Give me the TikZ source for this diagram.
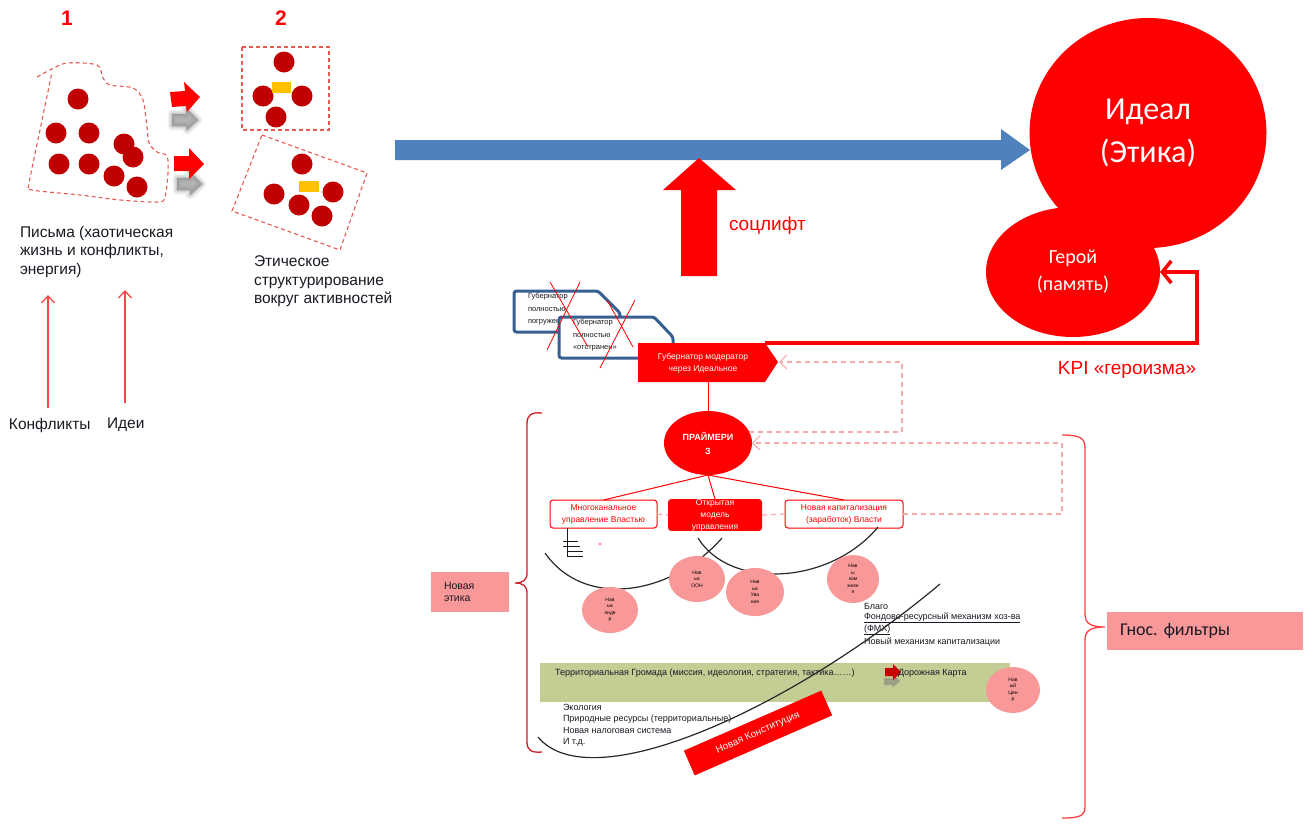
\documentclass[tikz,border=0pt]{standalone}
\usepackage{fontspec}
\setmainfont{Liberation Sans}
\newfontfamily\calfont{Carlito}
\usetikzlibrary{shapes.geometric,arrows.meta,calc}
\definecolor{dred}{RGB}{192,0,0}
\definecolor{bred}{RGB}{255,0,0}
\definecolor{dashred}{RGB}{228,90,80}
\definecolor{arrred}{RGB}{255,70,70}
\definecolor{ablue}{RGB}{79,129,189}
\definecolor{govblue}{RGB}{55,96,146}
\definecolor{pinkc}{RGB}{249,152,152}
\definecolor{pdashc}{RGB}{248,170,170}
\definecolor{olivec}{RGB}{196,205,148}
\definecolor{ambery}{RGB}{255,192,0}
\definecolor{txtc}{RGB}{25,25,35}
\definecolor{arcc}{RGB}{40,40,40}
\definecolor{brk}{RGB}{205,30,40}
\frenchspacing
\begin{document}
\begin{tikzpicture}[x=1pt,y=-1pt,
  every node/.style={inner sep=0pt, outer sep=0pt},
  reddot/.style={circle, fill=dred, minimum size=21pt},
  redash/.style={draw=dashred, line width=1.1pt, dash pattern=on 4pt off 3pt},
  txt/.style={text=txtc, font=\fontsize{15.5}{18.5}\selectfont, align=left},
  thinarrow/.style={draw=arrred, line width=1.3pt, -{Straight Barb[length=7pt,width=13pt]}},
  pdash/.style={draw=pdashc, line width=1.2pt, dash pattern=on 5pt off 4pt},
  pdarrow/.style={pdash, -{Straight Barb[length=7pt,width=14pt]}},
  pcirc/.style={ellipse, fill=pinkc, font=\fontsize{5}{6.5}\selectfont, align=center, text=black},
  blackarc/.style={draw=arcc, line width=1.2pt},
  smalltxt/.style={font=\fontsize{9}{12}\selectfont, text=txtc, anchor=west},
  gtext/.style={font=\fontsize{7.5}{12.5}\selectfont, text=txtc, align=left, anchor=north west},
  govbox/.style={draw=govblue, line width=3pt, fill=white, rounded corners=2.5pt},
  boxtxt/.style={font=\fontsize{8.5}{12}\selectfont, align=center},
  softshadow/.style={fill=gray, draw=gray, line join=round},
]
\useasboundingbox (0,0) rectangle (1314,823);

% ---------- stage numbers
\node[text=bred, font=\bfseries\fontsize{21}{24}\selectfont] (num1) at (67,18) {1};
\node[text=bred, font=\bfseries\fontsize{21}{24}\selectfont] (num2) at (281,18) {2};

% ---------- chaotic blob
\draw[redash] plot[smooth, tension=0.5] coordinates {(37,77) (50,70) (67,63) (97,65) (103,78) (110,85) (133,88) (143,100) (147,127) (149,143) (157,152) (167,156) (168,173) (165,197) (158,202) (120,200) (80,195) (32,190) (29,184) (40,130) (52,72)};
\foreach \x/\y [count=\i] in {78/99,56/133,89/133,59/164,89/164,124/144,133/157,114/176,137/187}
  \node[reddot] (b\i) at (\x,\y) {};

% ---------- transition arrows with soft shadows
\foreach \w/\o in {9/0.10,6/0.14,3/0.2,0.5/0.35} {
  \filldraw[softshadow, opacity=\o, line width=\w pt] (172,114) -- (186,114) -- (186,108) -- (198,120) -- (187,130) -- (186,126) -- (172,126) -- cycle;
  \filldraw[softshadow, opacity=\o, line width=\w pt] (177,178) -- (190,178) -- (190,172) -- (202,184) -- (190,195) -- (190,190) -- (177,190) -- cycle;
}
\fill[bred] (170,92) -- (185,91) -- (184,82) -- (200,97) -- (187,112) -- (186,106) -- (172,107) -- cycle;
\fill[bred] (174,156) -- (189,156) -- (189,148) -- (204,164) -- (189,179) -- (189,171) -- (174,171) -- cycle;

% ---------- structured groups
\draw[redash] (242,47) rectangle (329,130);
\foreach \x/\y [count=\i] in {284/62,263/96,302/96,276/117}
  \node[reddot] (c\i) at (\x,\y) {};
\fill[ambery] (272,82) rectangle (291,93);
\draw[redash] (262,135) -- (367,173) -- (340,250) -- (232,211) -- cycle;
\foreach \x/\y [count=\i] in {302/164,274/194,333/192,299/205,322/216}
  \node[reddot] (e\i) at (\x,\y) {};
\fill[ambery] (299,181) rectangle (319,192);

% ---------- left texts
\node[txt, anchor=north west] (pis) at (20,226) {Письма (хаотическая\\жизнь и конфликты,\\энергия)};
\node[txt, anchor=north west] (eth) at (254,256) {Этическое\\структурирование\\вокруг активностей};
\node[txt, anchor=west] (konf) at (9,425) {Конфликты};
\node[txt, anchor=west] (idei) at (107,425) {Идеи};
\coordinate (k0) at (48,408); \coordinate (k1) at (48,295);
\coordinate (i0) at (125,403); \coordinate (i1) at (125,290);
\draw[thinarrow] (k0) -- (k1);
\draw[thinarrow] (i0) -- (i1);

% ---------- ideal and hero
\node[ellipse, fill=bred, minimum width=237pt, minimum height=230pt, text=white,
      font=\calfont\fontsize{32}{43}\selectfont, align=center] (ideal) at (1148,133) {Идеал\\(Этика)};
\node[ellipse, fill=bred, minimum width=174pt, minimum height=130pt, text=white,
      font=\calfont\fontsize{20}{27}\selectfont, align=center] (hero) at (1073,272) {Герой\\(память)};

% ---------- main blue arrow
\fill[ablue] (395,140) -- (1001,140) -- (1001,129) -- (1030,150) -- (1001,170) -- (1001,160) -- (395,160) -- cycle;

% ---------- social lift arrow
\fill[bred] (681,276) -- (681,190) -- (663,190) -- (699,158) -- (736,190) -- (717,190) -- (717,276) -- cycle;
\node[text=bred, font=\fontsize{19}{22}\selectfont, anchor=west] (soc) at (729,226) {соцлифт};

% ---------- governor variants
\draw[govbox] (514,291) -- (598,291) -- (620,313) -- (620,332) -- (514,332) -- cycle;
\node[gtext] (gA) at (528,293) {Губернатор\\полностью\\погружен};
\draw[govbox] (559,317) -- (654,317) -- (673,337) -- (673,358) -- (559,358) -- cycle;
\node[gtext] (gB) at (573,319) {Губернатор\\полностью\\«отстранен»};
\draw[bred, line width=0.8pt] (550,282) -- (588,347) (580,282) -- (547,350);
\draw[bred, line width=0.8pt] (607,300) -- (633,347) (635,300) -- (600,368);

% ---------- moderator
\fill[bred] (638,343) -- (765,343) -- (778,362) -- (765,382) -- (638,382) -- cycle;
\coordinate (modNE) at (765,343);
\coordinate (modTip) at (779,362);
\coordinate (modS) at (708,382);
\node[text=white, boxtxt] (modT) at (703,363) {Губернатор модератор\\через Идеальное};

% ---------- KPI loop
\draw[bred, line width=3.5pt, -{Straight Barb[length=9pt,width=22pt]}] (modNE) -- (1197,343) |- (hero.east);
\node[text=bred, font=\fontsize{19}{22}\selectfont] (kpi) at (1127,370) {KPI «героизма»};

% ---------- primaries
\node[ellipse, fill=bred, minimum width=88pt, minimum height=64pt, text=white,
      font=\bfseries\fontsize{9}{14}\selectfont, align=center] (prim) at (708,443) {ПРАЙМЕРИ\\З};
\draw[bred, line width=1pt] (modS) -- (prim.north);

\node[draw=bred, line width=1pt, fill=white, rounded corners=3pt, minimum width=107pt, minimum height=28pt,
      text=bred, boxtxt] (bL) at (603.5,514) {Многоканальное\\управление Властью};
\node[fill=bred, rounded corners=3pt, minimum width=94pt, minimum height=30pt,
      text=white, boxtxt] (bM) at (715,515) {Открытая\\модель\\управления};
\node[draw=bred, line width=1pt, fill=white, rounded corners=3pt, minimum width=118pt, minimum height=28pt,
      text=bred, boxtxt] (bR) at (844,514) {Новая капитализация\\(заработок) Власти};
\draw[bred, line width=1pt] (prim.south) -- (bL.north);
\draw[bred, line width=1pt] (prim.south) -- (bM.north);
\draw[bred, line width=1pt] (prim.south) -- (bR.north);

% dashed feedback
\draw[pdash] (bL.east) -- (bM.west);
\draw[pdash] (bM.east) -- (bR.west);
\coordinate (loopA) at (902,362);
\draw[pdarrow] (prim.15) -| (loopA) -- (modTip);
\coordinate (loopB) at (1062,443);
\draw[pdarrow] (bR.east) -| (loopB) -- (prim.east);

% ---------- arcs and marks
\draw[blackarc] (545,553) .. controls (585,610) and (672,595) .. (722,538);
\draw[blackarc] (698,538) .. controls (730,590) and (830,585) .. (878,527);
\draw[draw=txtc, line width=1pt] (567,528) -- (567,556)
  (563,541) -- (578,541) (563,546) -- (580,546) (567,551) -- (583,551) (567,556) -- (583,556);
\node[text=bred, font=\fontsize{6}{7}\selectfont] (eqm) at (600,545) {=};

% ---------- skill circles
\node[pcirc, minimum width=56pt, minimum height=46pt] (s1) at (610,610) {Нав\\ык\\лиде\\р};
\node[pcirc, minimum width=56pt, minimum height=46pt] (s2) at (697,579) {Нав\\ык\\ООН};
\node[pcirc, minimum width=58pt, minimum height=48pt] (s3) at (755,592) {Нав\\ык\\Ува\\ния};
\node[pcirc, minimum width=52pt, minimum height=48pt] (s4) at (853,579) {Нав\\ы\\ком\\жизн\\я};

% ---------- text block
\node[smalltxt] (blago) at (864,606) {Благо};
\node[smalltxt] (fmx) at (864,618) {\underline{Фондово-ресурсный механизм хоз-ва}};
\node[smalltxt] (fmx2) at (864,630) {\underline{(ФМХ)}};
\node[smalltxt] (nmk) at (864,642) {Новый механизм капитализации};

% ---------- territorial band
\node[fill=olivec, minimum width=470pt, minimum height=39pt, anchor=north west] (band) at (540,663) {};
\node[smalltxt] (terr) at (555,673) {Территориальная Громада (миссия, идеология, стратегия, тактика……)};
\foreach \w/\o in {4/0.12,2/0.2,0.5/0.3}
  \filldraw[softshadow, opacity=\o, line width=\w pt] (885,679) -- (893,679) -- (893,676) -- (899,681) -- (893,686) -- (893,684) -- (885,684) -- cycle;
\fill[dred!90!red] (885,668) -- (893,668) -- (893,664) -- (901,672) -- (893,680) -- (893,676) -- (885,676) -- cycle;
\node[smalltxt] (road) at (898,673) {Дорожная Карта};
\node[pcirc, minimum width=54pt, minimum height=46pt] (s5) at (1013,690) {Нав\\ый\\Цен\\р};

\node[smalltxt] (l1) at (563,707) {Экология};
\node[smalltxt] (l2) at (563,719) {Природные ресурсы (территориальные)};
\node[smalltxt] (l3) at (563,730) {Новая налоговая система};
\node[smalltxt] (l4) at (563,742) {И т.д.};

% ---------- long curve
\draw[blackarc] (940,584) .. controls (790,710) and (590,800) .. (538,737);

% ---------- constitution
\node[fill=bred, rotate=23.6, minimum width=150pt, minimum height=27pt, text=white!85!pink,
      font=\fontsize{10}{12}\selectfont] (konst) at (758,733) {Новая Конституция};

% ---------- brackets and labels
\draw[brk, line width=1.3pt] (542,413) .. controls (531,412) and (527,415) .. (527,424) -- (527,573)
  .. controls (527,580) and (523,583) .. (515,583) .. controls (523,583) and (527,586) .. (527,593)
  -- (527,742) .. controls (527,750) and (531,753) .. (542,752);
\node[fill=pinkc, minimum width=78pt, minimum height=40pt, text width=52pt, align=left,
      font=\fontsize{10.5}{12}\selectfont, text=txtc] (netika) at (470,592) {Новая\\этика};

\draw[red!75, line width=1.3pt] (1062,435) .. controls (1080,435) and (1085,438) .. (1085,448) -- (1085,614)
  .. controls (1085,623) and (1090,627) .. (1105,627) .. controls (1090,627) and (1085,631) .. (1085,640)
  -- (1085,806) .. controls (1085,816) and (1080,818) .. (1062,818);
\node[fill=pinkc, minimum width=196pt, minimum height=38pt, text width=170pt, align=left,
      font=\calfont\fontsize{18}{20}\selectfont, text=txtc] (gnos) at (1205,631) {Гнос. фильтры};
\end{tikzpicture}
\end{document}
